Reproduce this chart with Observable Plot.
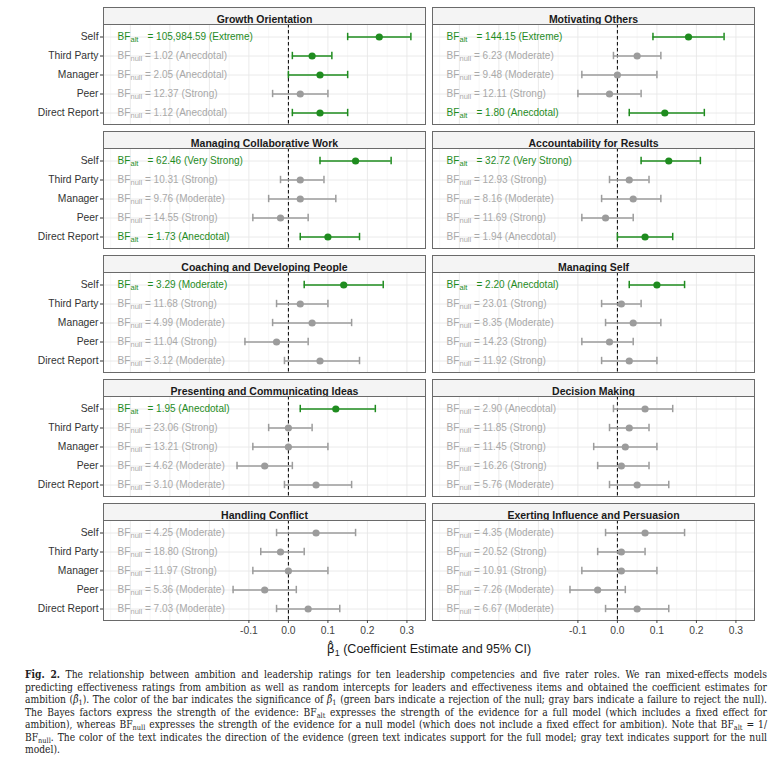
<!DOCTYPE html>
<html>
<head>
<meta charset="utf-8">
<script src="https://cdn.jsdelivr.net/npm/d3@7"></script>
<script src="https://cdn.jsdelivr.net/npm/@observablehq/plot@0.6"></script>
<style>
  body { margin: 0; background: #fff; }
  #wrap { position: relative; width: 782px; height: 763px; overflow: hidden; }
  #chart { position: absolute; left: 0; top: 0; }
  #xtitle { position: absolute; top: 641px; left: 103px; width: 652px; text-align: center;
    font: 12.5px "Liberation Sans", Arial, sans-serif; color: #1a1a1a; }
  #xtitle .b { font-family: "DejaVu Sans", sans-serif; }
  #xtitle sub { font-size: 0.72em; vertical-align: -0.3em; line-height: 0; }
  #caption { position: absolute; top: 668px; left: 25px; width: 742px;
    font-family: "DejaVu Serif", serif; font-stretch: condensed; font-size: 10.2px; line-height: 12.55px; color: #222; }
  #caption .l { text-align: justify; text-align-last: justify; white-space: nowrap; }
  #caption .last { text-align: left; }
  #caption sub { font-size: 0.72em; vertical-align: -0.25em; line-height: 0; }
  #caption b { font-weight: bold; }
</style>
</head>
<body>
<div id="wrap">
  <div id="chart"></div>
  <div id="xtitle"><span class="b">β̂</span><sub>1</sub> (Coefficient Estimate and 95% CI)</div>
  <div id="caption">
    <div class="l"><b>Fig. 2.</b> The relationship between ambition and leadership ratings for ten leadership competencies and five rater roles. We ran mixed-effects models</div>
    <div class="l">predicting effectiveness ratings from ambition as well as random intercepts for leaders and effectiveness items and obtained the coefficient estimates for</div>
    <div class="l">ambition (<i>β̂</i><sub>1</sub>). The color of the bar indicates the significance of <i>β̂</i><sub>1</sub> (green bars indicate a rejection of the null; gray bars indicate a failure to reject the null).</div>
    <div class="l">The Bayes factors express the strength of the evidence: BF<sub>alt</sub> expresses the strength of the evidence for a full model (which includes a fixed effect for</div>
    <div class="l">ambition), whereas BF<sub>null</sub> expresses the strength of the evidence for a null model (which does not include a fixed effect for ambition). Note that BF<sub>alt</sub> = 1/</div>
    <div class="l">BF<sub>null</sub>. The color of the text indicates the direction of the evidence (green text indicates support for the full model; gray text indicates support for the null</div>
    <div class="last">model).</div>
  </div>
</div>
<script>
// ---------- data ----------
const competencies = [
  "Growth Orientation", "Motivating Others",
  "Managing Collaborative Work", "Accountability for Results",
  "Coaching and Developing People", "Managing Self",
  "Presenting and Communicating Ideas", "Decision Making",
  "Handling Conflict", "Exerting Influence and Persuasion"
];
const roles = ["Self", "Third Party", "Manager", "Peer", "Direct Report"];

const estimates = [
  [0.23, 0.06, 0.08, 0.03, 0.08],
  [0.18, 0.05, 0.00, -0.02, 0.12],
  [0.17, 0.03, 0.03, -0.02, 0.10],
  [0.13, 0.03, 0.04, -0.03, 0.07],
  [0.14, 0.03, 0.06, -0.03, 0.08],
  [0.10, 0.01, 0.04, -0.02, 0.03],
  [0.12, 0.00, 0.00, -0.06, 0.07],
  [0.07, 0.03, 0.02, 0.01, 0.05],
  [0.07, -0.02, 0.00, -0.06, 0.05],
  [0.07, 0.01, 0.01, -0.05, 0.05]
];
const ciLow = [
  [0.15, 0.01, 0.00, -0.04, 0.01],
  [0.09, -0.01, -0.09, -0.10, 0.03],
  [0.08, -0.02, -0.05, -0.09, 0.03],
  [0.06, -0.02, -0.04, -0.09, 0.00],
  [0.04, -0.03, -0.04, -0.11, -0.01],
  [0.03, -0.04, -0.03, -0.09, -0.04],
  [0.03, -0.05, -0.09, -0.13, -0.01],
  [-0.01, -0.02, -0.06, -0.05, -0.02],
  [-0.03, -0.07, -0.09, -0.14, -0.03],
  [-0.03, -0.05, -0.09, -0.12, -0.03]
];
const ciHigh = [
  [0.31, 0.11, 0.15, 0.10, 0.15],
  [0.27, 0.11, 0.10, 0.06, 0.22],
  [0.26, 0.09, 0.12, 0.05, 0.18],
  [0.21, 0.08, 0.11, 0.04, 0.14],
  [0.24, 0.10, 0.16, 0.05, 0.18],
  [0.17, 0.06, 0.11, 0.04, 0.10],
  [0.22, 0.06, 0.10, 0.01, 0.16],
  [0.14, 0.08, 0.10, 0.08, 0.13],
  [0.17, 0.04, 0.10, 0.02, 0.13],
  [0.17, 0.07, 0.10, 0.02, 0.13]
];
// significant (green bar) = 1, not significant (gray bar) = 0
const significant = [
  [1, 1, 1, 0, 1],
  [1, 0, 0, 0, 1],
  [1, 0, 0, 0, 1],
  [1, 0, 0, 0, 1],
  [1, 0, 0, 0, 0],
  [1, 0, 0, 0, 0],
  [1, 0, 0, 0, 0],
  [0, 0, 0, 0, 0],
  [0, 0, 0, 0, 0],
  [0, 0, 0, 0, 0]
];
const bfType = [
  ["alt", "null", "null", "null", "null"],
  ["alt", "null", "null", "null", "alt"],
  ["alt", "null", "null", "null", "alt"],
  ["alt", "null", "null", "null", "null"],
  ["alt", "null", "null", "null", "null"],
  ["alt", "null", "null", "null", "null"],
  ["alt", "null", "null", "null", "null"],
  ["null", "null", "null", "null", "null"],
  ["null", "null", "null", "null", "null"],
  ["null", "null", "null", "null", "null"]
];
const bfValue = [
  ["105,984.59", "1.02", "2.05", "12.37", "1.12"],
  ["144.15", "6.23", "9.48", "12.11", "1.80"],
  ["62.46", "10.31", "9.76", "14.55", "1.73"],
  ["32.72", "12.93", "8.16", "11.69", "1.94"],
  ["3.29", "11.68", "4.99", "11.04", "3.12"],
  ["2.20", "23.01", "8.35", "14.23", "11.92"],
  ["1.95", "23.06", "13.21", "4.62", "3.10"],
  ["2.90", "11.85", "11.45", "16.26", "5.76"],
  ["4.25", "18.80", "11.97", "5.36", "7.03"],
  ["4.35", "20.52", "10.91", "7.26", "6.67"]
];
const bfStrength = [
  ["Extreme", "Anecdotal", "Anecdotal", "Strong", "Anecdotal"],
  ["Extreme", "Moderate", "Moderate", "Strong", "Anecdotal"],
  ["Very Strong", "Strong", "Moderate", "Strong", "Anecdotal"],
  ["Very Strong", "Strong", "Moderate", "Strong", "Anecdotal"],
  ["Moderate", "Strong", "Moderate", "Strong", "Moderate"],
  ["Anecdotal", "Strong", "Moderate", "Strong", "Strong"],
  ["Anecdotal", "Strong", "Strong", "Moderate", "Moderate"],
  ["Anecdotal", "Strong", "Strong", "Strong", "Moderate"],
  ["Moderate", "Strong", "Strong", "Moderate", "Moderate"],
  ["Moderate", "Strong", "Strong", "Moderate", "Moderate"]
];
const xTicks = [-0.1, 0, 0.1, 0.2, 0.3];
const majorGrid = [-0.4, -0.3, -0.2, -0.1, 0, 0.1, 0.2, 0.3];
const minorGrid = [-0.45, -0.35, -0.25, -0.15, -0.05, 0.05, 0.15, 0.25];

// ---------- build ----------
const green = "#1f8c1f", grayBar = "#9c9c9c", grayText = "#a9a9a9";
const table = competencies.flatMap((c, i) => roles.map((r, j) => ({
  competency: c, col: i % 2, row: Math.floor(i / 2), role: r,
  est: estimates[i][j], lo: ciLow[i][j], hi: ciHigh[i][j],
  barColor: significant[i][j] ? green : grayBar,
  type: bfType[i][j],
  textColor: bfType[i][j] === "alt" ? green : grayText,
  rest: "= " + bfValue[i][j] + " (" + bfStrength[i][j] + ")"
})));
const strips = competencies.map((c, i) => ({competency: c, col: i % 2, row: Math.floor(i / 2)}));
const F = {fx: "col", fy: "row"};
const capInset = 5.8;

const chart = Plot.plot({
  width: 782, height: 640,
  marginTop: 24, marginLeft: 103, marginRight: 27, marginBottom: 20,
  style: {fontFamily: '"Liberation Sans", Arial, Helvetica, sans-serif', fontSize: "10px", background: "white"},
  fx: {axis: null, domain: [0, 1], paddingInner: 7 / 329.5, paddingOuter: 0},
  fy: {axis: null, domain: [0, 1, 2, 3, 4], paddingInner: 24 / 124, paddingOuter: 0},
  x: {domain: [-0.468, 0.347]},
  y: {type: "band", domain: roles, paddingInner: 0, paddingOuter: 0.1},
  marks: [
    Plot.frame({fill: "#f4f4f4", insetTop: -17}),
    Plot.frame({fill: "white"}),
    Plot.gridX(minorGrid, {stroke: "#f1f1f1", strokeOpacity: 1, strokeWidth: 0.6}),
    Plot.gridX(majorGrid, {stroke: "#e8e8e8", strokeOpacity: 1, strokeWidth: 0.9}),
    Plot.gridY({stroke: "#e8e8e8", strokeOpacity: 1, strokeWidth: 0.9}),
    Plot.text(table, {...F, y: "role", text: () => "BF", frameAnchor: "left", dx: 14, textAnchor: "start",
      fill: "textColor", fontSize: 10}),
    Plot.text(table, {...F, y: "role", text: "type", frameAnchor: "left", dx: 27, dy: 2.5, textAnchor: "start",
      fill: "textColor", fontSize: 7.5}),
    Plot.text(table.filter(d => d.type === "alt"), {...F, y: "role", text: "rest", frameAnchor: "left", dx: 44,
      textAnchor: "start", fill: "textColor", fontSize: 10}),
    Plot.text(table.filter(d => d.type === "null"), {...F, y: "role", text: "rest", frameAnchor: "left", dx: 41.5,
      textAnchor: "start", fill: "textColor", fontSize: 10}),
    Plot.ruleX([0], {stroke: "#000", strokeDasharray: "3.5,2.5", strokeWidth: 1}),
    Plot.ruleY(table, {...F, y: "role", x1: "lo", x2: "hi", stroke: "barColor", strokeWidth: 1.5}),
    Plot.tickX(table, {...F, x: "lo", y: "role", stroke: "barColor", strokeWidth: 1.5, insetTop: capInset, insetBottom: capInset}),
    Plot.tickX(table, {...F, x: "hi", y: "role", stroke: "barColor", strokeWidth: 1.5, insetTop: capInset, insetBottom: capInset}),
    Plot.dot(table, {...F, x: "est", y: "role", r: 3.6, fill: "barColor", stroke: null}),
    Plot.text(strips, {...F, text: "competency", frameAnchor: "top", dy: -8.5, fontWeight: "bold",
      fontSize: 10.5, fill: "#1a1a1a"}),
    Plot.frame({stroke: "#6a6a6a", insetTop: -17}),
    Plot.frame({stroke: "#6a6a6a"}),
    Plot.axisY({anchor: "left", tickSize: 3, tickPadding: 2, fontSize: 10.3, color: "#333", label: null}),
    Plot.axisX({anchor: "bottom", ticks: xTicks, tickFormat: d => d.toFixed(1), tickSize: 3, tickPadding: 3,
      fontSize: 10.3, color: "#444", label: null})
  ]
});
document.getElementById("chart").appendChild(chart);
</script>
</body>
</html>
